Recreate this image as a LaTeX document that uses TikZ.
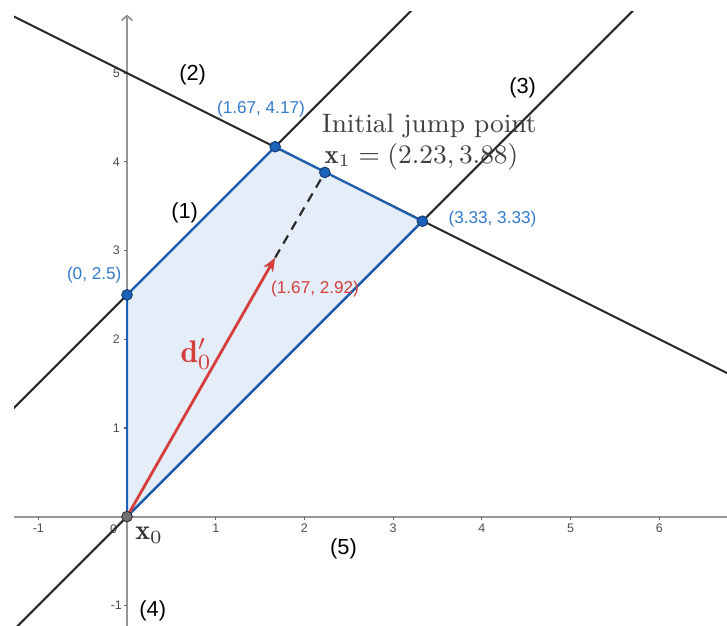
\documentclass[tikz,border=0pt]{standalone}
\usepackage{fontspec}
\setsansfont{Liberation Sans}
\usetikzlibrary{arrows.meta,positioning,calc}
\tikzset{>=Stealth}
\definecolor{ggblue}{RGB}{28,98,186}
\definecolor{gglabel}{RGB}{52,122,205}
\definecolor{ggfill}{RGB}{228,237,248}
\definecolor{ggred}{RGB}{214,62,62}
\definecolor{ggline}{RGB}{40,40,40}
\definecolor{ggaxis}{RGB}{150,150,150}

\begin{document}
\begin{tikzpicture}[
    constraint/.style={draw=ggline, line width=0.65pt},
    edge/.style={draw=ggblue, line width=0.65pt},
    vertex/.style={circle, fill=ggblue, draw=ggblue!60!black, line width=0.3pt, inner sep=0pt, minimum size=3.4pt},
    coordlabel/.style={font=\sffamily\fontsize{5.5}{6.5}\selectfont, text=gglabel, inner sep=1pt},
    cnum/.style={font=\sffamily\fontsize{7}{8}\selectfont, inner sep=1pt},
    ticklabel/.style={font=\sffamily\fontsize{4}{5}\selectfont, text=black!70, inner sep=1pt},
    jumplabel/.style={anchor=west, inner sep=0pt, text=black!75, scale=0.95, transform shape},
    every node/.style={font=\small}
  ]
  \useasboundingbox (-1.432,-1.23) rectangle (6.764,5.824);

  % axes
  \draw[ggaxis, line width=0.6pt] (-1.274,0) -- (6.764,0);
  \draw[ggaxis, line width=0.6pt, -{Straight Barb[length=1.5pt,width=3.5pt]}] (0,-1.23) -- (0,5.66);
  \foreach \i in {-1,1,2,3,4,5,6} {
    \draw[black!60, line width=0.4pt] (\i,0) -- (\i,-0.035);
    \node[ticklabel] at (\i,-0.13) {\i};
  }
  \foreach \i in {-1,1,2,3,4,5} {
    \draw[black!60, line width=0.4pt] (-0.035,\i) -- (0,\i);
    \node[ticklabel] at (-0.12,\i) {\i};
  }
  \node[ticklabel] at (-0.15,-0.14) {0};

  % feasible region
  \coordinate (O) at (0,0);
  \coordinate (A) at (0,2.5);
  \coordinate (B) at (1.67,4.17);
  \coordinate (C) at (3.33,3.33);
  \coordinate (D) at (1.67,2.92);
  \coordinate (X1) at (2.23,3.88);
  \fill[ggfill] (O) -- (A) -- (B) -- (C) -- cycle;

  % constraint lines
  \begin{scope}
    \clip (-1.274,-1.23) rectangle (6.764,5.69);
    \draw[constraint] (-4,-1.5) -- (4,6.5);
    \draw[constraint] (-2,6) -- (8,1);
    \draw[constraint] (-2,-2) -- (7,7);
  \end{scope}

  \draw[edge] (O) -- (A) -- (B) -- (C) -- cycle;

  % direction and jump
  \draw[ggline, line width=0.7pt, dash pattern=on 3pt off 2.2pt] (D) -- (X1);
  \draw[ggred, line width=0.9pt, -{Stealth[length=4.5pt,width=3.5pt]}] (O) -- (D);

  \node[vertex] (pA) at (A) {};
  \node[vertex] (pB) at (B) {};
  \node[vertex] (pC) at (C) {};
  \node[vertex] (pX1) at (X1) {};
  \node[circle, fill=black!55, draw=black!80, line width=0.3pt, inner sep=0pt, minimum size=3.4pt] (pO) at (O) {};

  % labels
  \node[coordlabel] (labA) at (-0.37,2.72) {(0, 2.5)};
  \node[coordlabel] (labB) at (1.51,4.60) {(1.67, 4.17)};
  \node[coordlabel] (labC) at (4.12,3.36) {(3.33, 3.33)};
  \node[coordlabel, text=ggred] (labD) at (2.12,2.57) {(1.67, 2.92)};

  \node[cnum] (c1) at (0.65,3.43) {(1)};
  \node[cnum] (c2) at (0.74,4.98) {(2)};
  \node[cnum] (c3) at (4.46,4.83) {(3)};
  \node[cnum] (c4) at (0.29,-1.06) {(4)};
  \node[cnum] (c5) at (2.44,-0.36) {(5)};

  \node[jumplabel] (jump) at (2.19,4.40) {Initial jump point};
  \node[jumplabel] (jumpeq) at (2.22,4.06) {$\mathbf{x}_1=(2.23,3.88)$};
  \node[text=black!80] (x0) at (0.25,-0.21) {$\mathbf{x}_0$};
  \node[text=ggred, font=\normalsize] (d0) at (0.78,1.83) {$\mathbf{d}'_0$};
\end{tikzpicture}
\end{document}
